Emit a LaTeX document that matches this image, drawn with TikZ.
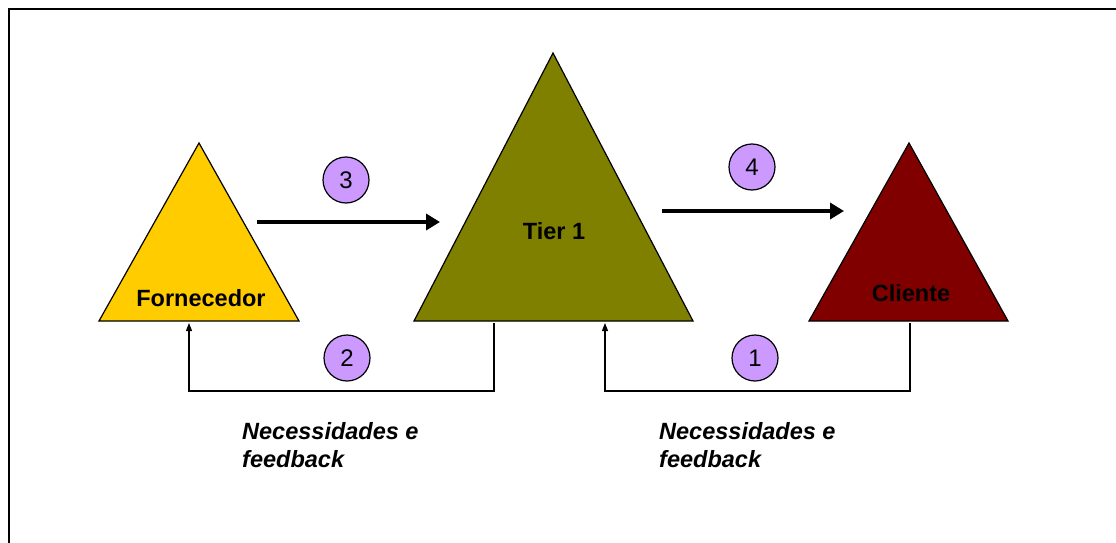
\documentclass[tikz,border=0pt]{standalone}
\usepackage{fontspec}
\setmainfont{Liberation Sans}
\usetikzlibrary{arrows.meta}
\definecolor{gold}{HTML}{FFCC00}
\definecolor{olive}{HTML}{808000}
\definecolor{maroon}{HTML}{800000}
\definecolor{lilac}{HTML}{CC99FF}
\begin{document}
\begin{tikzpicture}[x=1pt,y=-1pt,
  tri/.style={draw=black,line width=1.2pt},
  lbl/.style={font=\fontsize{23.5}{27}\selectfont\bfseries,inner sep=0pt},
  num/.style={circle,draw=black,line width=1.2pt,fill=lilac,minimum size=46pt,inner sep=0pt,font=\fontsize{24}{28}\selectfont},
  flow/.style={line width=4pt,-{Triangle[length=14pt,width=16pt]}},
  back/.style={line width=1.3pt,-{Triangle[length=8pt,width=6pt]}},
  note/.style={font=\fontsize{23.5}{28}\selectfont\bfseries\itshape,align=left,inner sep=0pt,anchor=north west}]
\useasboundingbox (0,0) rectangle (1116,543);
\fill[white] (0,0) rectangle (1116,543);
% frame
\draw[line width=1.3pt] (9,543) -- (9,9) -- (1116,9);
% triangles
\draw[tri,fill=gold] (99,321) -- (199,143) -- (299,321) -- cycle;
\draw[tri,fill=olive] (414,321) -- (553,53) -- (693,321) -- cycle;
\draw[tri,fill=maroon] (809,321) -- (909,143) -- (1008,321) -- cycle;
\node[lbl] (forn) at (201,298) {Fornecedor};
\node[lbl] (tier) at (554,231) {Tier 1};
\node[lbl] (cli) at (911,293) {Cliente};
% forward flows
\coordinate (a3s) at (257,222);
\coordinate (a3e) at (440,222);
\coordinate (a4s) at (662,211);
\coordinate (a4e) at (844,211);
\draw[flow] (a3s) -- (a3e);
\draw[flow] (a4s) -- (a4e);
% feedback loops
\coordinate (b2s) at (494,323);
\coordinate (b2e) at (189,323);
\coordinate (b1s) at (910,323);
\coordinate (b1e) at (605,323);
\draw[back] (b2s) -- (494,391) -- (189,391) -- (b2e);
\draw[back] (b1s) -- (910,391) -- (605,391) -- (b1e);
% step numbers
\node[num] (n3) at (346,180) {3};
\node[num] (n4) at (752,167) {4};
\node[num] (n2) at (347,358) {2};
\node[num] (n1) at (755,358) {1};
% captions
\node[note] (c2) at (242,422) {Necessidades e\\feedback};
\node[note] (c1) at (659,422) {Necessidades e\\feedback};
\end{tikzpicture}
\end{document}
